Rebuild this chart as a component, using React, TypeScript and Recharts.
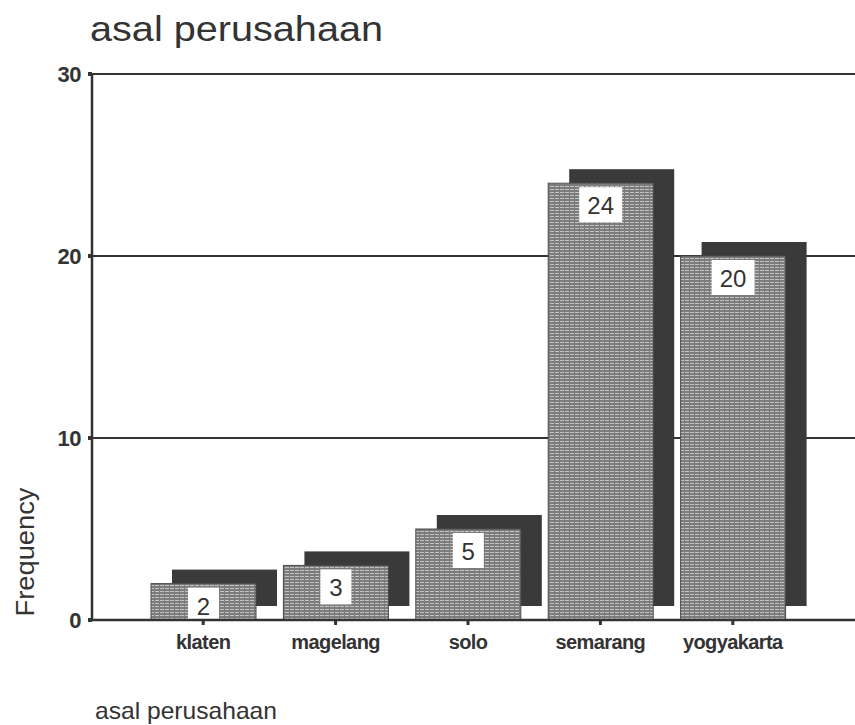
import * as React from 'react';
import { BarChart, Bar, XAxis, YAxis, CartesianGrid } from 'recharts';

const cities = ['klaten', 'magelang', 'solo', 'semarang', 'yogyakarta'];
const frequency = [2, 3, 5, 24, 20];
const yTicks = [0, 10, 20, 30];

const rows = cities.map((city, i) => ({ city, freq: frequency[i] }));

const INK = '#333333';
const FONT = '"Liberation Sans", Arial, sans-serif';

const ShadowBar = (props: any) => {
	const { x, y, width, height, value, index } = props;
	const pid = `tex-${index}`;
	const boxW = value >= 10 ? 43 : 31;
	const boxH = 35;
	const cx = x + width / 2;
	return (
		<g>
			<defs>
				<pattern id={pid} width={5} height={3} patternUnits="userSpaceOnUse">
					<rect width={5} height={3} fill="#7c7c7c" />
					<rect width={4} height={1} fill="#c2c2c2" />
				</pattern>
			</defs>
			<rect x={x + 21} y={y - 14} width={width} height={height} fill="#3a3a3a" />
			<rect x={x} y={y} width={width} height={height} fill={`url(#${pid})`} stroke="#4a4a4a" strokeWidth={1} />
			<rect x={cx - boxW / 2} y={y + 4} width={boxW} height={boxH} fill="#fff" />
			<text x={cx} y={y + 31} textAnchor="middle" fontFamily={FONT} fontSize={24} fill={INK}>
				{value}
			</text>
		</g>
	);
};

const CityTick = (props: any) => {
	const { x, y, payload } = props;
	return (
		<text x={x} y={y} dy={22} textAnchor="middle" fontFamily={FONT} fontWeight="bold" fontSize={20} letterSpacing={-0.6} fill={INK}>
			{payload.value}
		</text>
	);
};

const CountTick = (props: any) => {
	const { x, y, payload } = props;
	return (
		<text x={x - 5} y={y} dy={8} textAnchor="end" fontFamily={FONT} fontWeight="bold" fontSize={22} letterSpacing={-0.5} fill={INK}>
			{payload.value}
		</text>
	);
};

export default function App() {
	return (
		<div style={{ position: 'absolute', left: 0, top: 0, width: 855, height: 725, background: '#fff' }}>
			<BarChart
				width={855}
				height={725}
				data={rows}
				margin={{ top: 74, right: 0, left: 0, bottom: 65 }}
				barSize={105}
			>
				<CartesianGrid vertical={false} stroke={INK} strokeWidth={2} strokeOpacity={1} />
				<XAxis
					dataKey="city"
					height={40}
					padding={{ left: 45, right: 56 }}
					axisLine={{ stroke: INK, strokeWidth: 2.5 }}
					tickLine={{ stroke: INK, strokeWidth: 3 }}
					tickSize={5}
					tick={<CityTick />}
				/>
				<YAxis
					width={92}
					domain={[0, 30]}
					ticks={yTicks}
					axisLine={{ stroke: INK, strokeWidth: 2.5 }}
					tickLine={{ stroke: INK, strokeWidth: 4 }}
					tickSize={4}
					tick={<CountTick />}
				/>
				<Bar dataKey="freq" shape={<ShadowBar />} isAnimationActive={false} />
			</BarChart>
			<svg width={855} height={725} style={{ position: 'absolute', left: 0, top: 0, pointerEvents: 'none' }}>
				<text x={90} y={41} fontFamily={FONT} fontSize={35} textLength={293} lengthAdjust="spacingAndGlyphs" fill={INK}>
					asal perusahaan
				</text>
				<text x={95} y={719} fontFamily={FONT} fontSize={24} textLength={182} lengthAdjust="spacingAndGlyphs" fill={INK}>
					asal perusahaan
				</text>
				<text
					transform="translate(34,552) rotate(-90)"
					textAnchor="middle"
					fontFamily={FONT}
					fontSize={25}
					textLength={129}
					lengthAdjust="spacingAndGlyphs"
					fill={INK}
				>
					Frequency
				</text>
			</svg>
		</div>
	);
}
